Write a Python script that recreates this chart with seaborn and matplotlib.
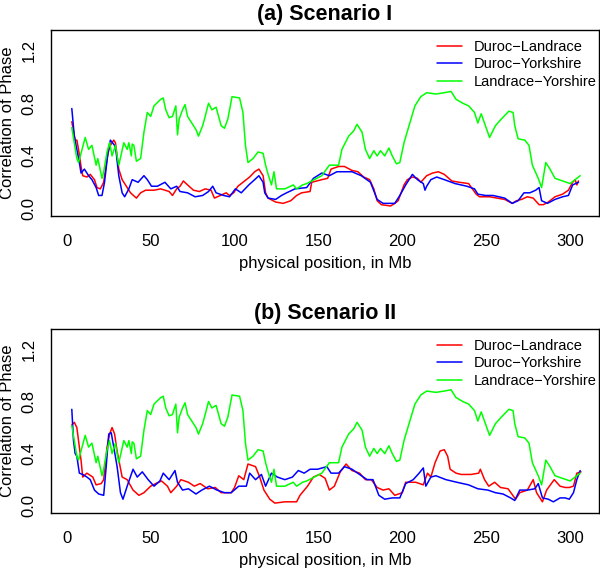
import matplotlib
matplotlib.use("Agg")
import matplotlib.pyplot as plt
import numpy as np
import pandas as pd
import seaborn as sns

# values (position in Mb, correlation of phase)
pairs = ["Duroc\u2212Landrace", "Duroc\u2212Yorkshire", "Landrace\u2212Yorshire"]
colors = ["#FF0000", "#0000FF", "#00FF00"]

# Landrace-Yorshire looks the same in both scenarios
ly_pos = [3, 6, 7, 11, 13, 15, 17.5, 18.5, 21, 22, 24, 25.5, 27, 29, 30, 31, 34, 36, 37, 38.5,
          39, 40, 41.5, 44, 46, 48, 50, 52, 56, 57.5, 59, 61, 63, 65, 66, 67, 69, 70.5, 72, 75.5,
          77, 78.5, 81, 82.5, 84.5, 86.5, 89, 92, 94, 96, 98.5, 103, 105, 106.5, 108, 111, 114, 117, 118.5, 120,
          122, 123.5, 125, 130, 135, 137, 140.5, 143, 146, 152, 156.5, 162, 164, 168, 171, 173, 176, 178, 180.5, 183,
          185, 187, 189.5, 192, 194, 196.5, 198.5, 201, 204, 207.5, 211, 214.5, 220, 225, 229, 232, 236, 239.5,
          243, 245, 247, 249.5, 252, 255.5, 259, 263.5, 266, 267, 269, 273, 275.5, 277.5, 281, 283, 285.5, 288,
          291, 295.5, 300, 302, 306]
ly_cor = [.615, .38, .35, .54, .45, .48, .33, .38, .23, .28, .43, .50, .40, .48, .40, .33, .50, .45, .50, .40,
          .49, .48, .36, .38, .58, .73, .70, .78, .83, .84, .75, .69, .70, .78, .56, .68, .75, .79, .70, .63,
          .60, .55, .63, .70, .80, .75, .77, .63, .61, .68, .85, .84, .73, .48, .35, .38, .43, .42, .33, .26,
          .18, .28, .15, .15, .18, .15, .18, .19, .21, .25, .33, .33, .45, .55, .59, .64, .58, .45, .38, .44,
          .40, .44, .40, .46, .40, .34, .35, .50, .63, .78, .85, .88, .87, .88, .89, .83, .80, .78,
          .73, .65, .72, .63, .54, .63, .68, .74, .73, .63, .53, .52, .48, .33, .23, .16, .35, .30,
          .23, .21, .19, .21, .25]

# Scenario I
dl1_pos = [3, 5, 6, 7, 8.5, 9.5, 12, 14, 16.5, 18, 20, 22, 24, 25.5, 28, 29, 30, 31, 33, 35,
           38, 41.5, 44, 47, 52, 56, 61, 63, 65.5, 67.5, 69.5, 72, 75.5, 79, 82.5, 86, 88, 91.5, 95, 97,
           99.5, 102, 105, 109, 112, 114.5, 117, 118.5, 120, 124.5, 129, 133.5, 137, 140, 145, 146, 152, 155.5, 157.5, 162,
           165.5, 170, 173.5, 177, 180.5, 183, 185, 187.5, 193, 195.5, 197.5, 201, 203, 206, 209, 211, 214.5, 218, 221.5, 225,
           229.5, 234, 239.5, 244, 246, 252, 256.5, 261, 265.5, 268, 271, 274.5, 278, 281.5, 284, 287, 291, 295.5, 299, 301.5,
           303, 304, 305]
dl1_cor = [.66, .52, .52, .45, .32, .25, .24, .26, .22, .16, .15, .20, .38, .47, .52, .50, .40, .30, .22, .18,
           .12, .08, .12, .14, .14, .15, .13, .10, .15, .17, .21, .18, .14, .13, .15, .14, .08, .10, .12, .10,
           .12, .17, .20, .24, .28, .30, .25, .12, .08, .05, .04, .06, .10, .12, .13, .20, .22, .23, .30, .32,
           .32, .29, .28, .24, .22, .15, .06, .03, .02, .04, .06, .18, .22, .24, .23, .20, .25, .27, .28, .26,
           .21, .20, .19, .11, .09, .09, .08, .07, .04, .06, .07, .09, .08, .03, .03, .05, .09, .11, .14, .20,
           .22, .18, .21]
dy1_pos = [3, 4.5, 6, 7.5, 8.5, 10.5, 13, 15, 17.5, 19, 21, 22.5, 24.5, 26, 28.5, 29.5, 31, 33, 34.5, 37,
           39, 42.5, 46, 48, 50.5, 54, 58.5, 62, 65.5, 67.5, 72, 76.5, 81, 84.5, 87, 89, 93.5, 97, 100.5, 104,
           108.5, 112, 114.5, 117, 118, 120, 124.5, 128, 131, 136, 143, 147, 152, 156.5, 161, 165.5, 170, 175.5, 181, 185,
           188.5, 195.5, 198.5, 202, 206, 209, 212.5, 213.5, 214.5, 217, 220.5, 225, 231.5, 238.5, 243, 245, 249.5, 254, 261, 265.5,
           269, 272.5, 276, 279.5, 281.5, 283, 286.5, 291, 295.5, 299, 301.5, 305]
dy1_cor = [.76, .55, .45, .35, .27, .30, .25, .22, .16, .10, .10, .20, .42, .52, .48, .42, .25, .12, .09, .15,
           .22, .20, .25, .22, .17, .17, .20, .15, .17, .13, .12, .09, .10, .13, .17, .12, .10, .09, .15, .12,
           .18, .22, .25, .20, .12, .08, .07, .10, .12, .15, .16, .23, .27, .25, .28, .28, .28, .25, .20, .07,
           .04, .04, .10, .18, .26, .22, .19, .14, .17, .22, .24, .22, .19, .17, .15, .11, .10, .10, .08, .04,
           .06, .12, .12, .14, .16, .06, .04, .07, .09, .10, .18, .20]

# Scenario II
dl2_pos = [3, 4.5, 6, 7.5, 8.5, 9.5, 12, 15.5, 17.5, 20.5, 22, 24, 25.5, 27, 28.5, 30, 31.5, 33, 36, 39.5,
           43, 46, 50, 53, 56.5, 60, 62, 65.5, 68, 72.5, 76, 79.5, 84, 88.5, 92, 98, 100, 102.5, 105.5, 108,
           112.5, 115, 117.5, 121, 124, 130, 137, 139, 143.5, 147, 150.5, 154, 156.5, 159.5, 163, 166.5, 170, 174.5, 178, 181.5,
           185, 188.5, 192, 195.5, 200, 202, 208, 212.5, 215, 217, 219.5, 222.5, 225, 227, 228.5, 232, 235, 241, 245.5, 246.5,
           249, 251.5, 255, 258.5, 263, 267.5, 270, 274.5, 278, 280, 283.5, 286, 290.5, 294, 297, 299.5, 302, 304, 306.5]
dl2_cor = [.62, .64, .60, .45, .35, .22, .25, .22, .16, .17, .20, .45, .55, .60, .55, .42, .32, .22, .20, .12,
           .08, .10, .15, .17, .19, .15, .10, .15, .20, .18, .15, .17, .13, .14, .10, .10, .14, .23, .20, .32,
           .30, .22, .12, .05, .02, .03, .03, .08, .15, .22, .24, .21, .12, .15, .26, .32, .27, .25, .20, .20,
           .14, .12, .13, .08, .10, .18, .18, .16, .25, .22, .33, .42, .43, .38, .28, .25, .24, .24, .25, .28,
           .20, .15, .18, .14, .13, .05, .10, .12, .20, .10, .03, .12, .20, .15, .14, .14, .15, .25, .26]
dy2_pos = [3, 4, 5, 6, 7.5, 9.5, 12, 14, 16.5, 19, 22, 23.5, 25, 26.5, 28, 30, 32, 33.5, 36, 39.5,
           42, 45, 48.5, 52, 55.5, 57.5, 61, 64.5, 66, 69, 72.5, 77, 80.5, 85, 89.5, 94, 98, 102.5, 107, 109,
           112.5, 116, 118.5, 122, 125.5, 130, 134.5, 138, 141.5, 145, 149.5, 155, 157.5, 162, 165.5, 170, 174.5, 179, 182.5, 186,
           189.5, 194, 198.5, 202, 206.5, 210, 212.5, 214, 217, 220, 226, 232.5, 239.5, 245, 251, 255.5, 260, 264.5, 267, 270,
           274.5, 279, 281, 283.5, 287, 290, 294, 297, 299.5, 302, 304, 306]
dy2_cor = [.74, .50, .40, .38, .25, .24, .22, .20, .12, .09, .08, .30, .55, .56, .45, .30, .10, .05, .15, .28,
           .22, .26, .20, .15, .19, .25, .20, .27, .18, .12, .13, .09, .12, .15, .12, .10, .10, .15, .15, .25,
           .20, .24, .15, .25, .22, .20, .22, .27, .25, .28, .28, .30, .25, .25, .30, .28, .24, .20, .20, .08,
           .05, .06, .06, .17, .20, .25, .29, .15, .22, .23, .20, .18, .16, .13, .12, .10, .09, .06, .04, .12,
           .12, .13, .17, .06, .05, .03, .06, .06, .05, .10, .20, .27]

xticks = [0, 50, 100, 150, 200, 250, 300]
yticks = [0.0, 0.2, 0.4, 0.6, 0.8, 1.0, 1.2]
ylabels = ["0.0", "", "0.4", "", "0.8", "", "1.2"]


def panel_frame(series):
    parts = []
    for name, pos, cor in series:
        parts.append(pd.DataFrame({"pos": pos, "cor": cor, "pair": name}))
    return pd.concat(parts, ignore_index=True)


sns.set_theme(style="white")
plt.rcParams["font.family"] = ["Liberation Sans", "DejaVu Sans"]
plt.rcParams["axes.edgecolor"] = "black"
plt.rcParams["axes.linewidth"] = 1.0
plt.rcParams["xtick.color"] = "black"
plt.rcParams["ytick.color"] = "black"
plt.rcParams["text.color"] = "black"
plt.rcParams["axes.labelcolor"] = "black"

fig = plt.figure(figsize=(6, 5.68), dpi=100)
ax_a = fig.add_axes([0.085, 0.6197, 0.9133, 0.3275])
ax_b = fig.add_axes([0.085, 0.0968, 0.9133, 0.3239])

panels = [
    (ax_a, "(a) Scenario I", [(pairs[0], dl1_pos, dl1_cor), (pairs[1], dy1_pos, dy1_cor), (pairs[2], ly_pos, ly_cor)]),
    (ax_b, "(b) Scenario II", [(pairs[0], dl2_pos, dl2_cor), (pairs[1], dy2_pos, dy2_cor), (pairs[2], ly_pos, ly_cor)]),
]

for ax, title, series in panels:
    df = panel_frame(series)
    sns.lineplot(data=df, x="pos", y="cor", hue="pair", hue_order=pairs,
                 palette=dict(zip(pairs, colors)), estimator=None, linewidth=1.1,
                 legend=False, ax=ax)
    ax.set_xlim(-9.4, 317.2)
    ax.set_ylim(-0.056, 1.356)
    ax.set_xticks(xticks)
    ax.set_xticklabels([str(t) for t in xticks], fontsize=12)
    ax.set_yticks(yticks)
    ax.set_yticklabels(ylabels, fontsize=12, rotation=90, va="center")
    ax.tick_params(axis="both", direction="out", length=7.2, width=1.0)
    ax.tick_params(axis="x", pad=5.5)
    ax.tick_params(axis="y", pad=3)
    ax.set_xlabel("physical position, in Mb", fontsize=12)
    ax.set_ylabel("Correlation of Phase", fontsize=12)
    ax.xaxis.set_label_coords(0.5, -0.215)
    ax.yaxis.set_label_coords(-0.066, 0.5)
    ax.set_title(title, fontsize=15.5, fontweight="bold", pad=7)
    for s in ax.spines.values():
        s.set_visible(True)
        s.set_color("black")
    ax.legend(ax.get_lines()[:3], pairs, loc="upper left", bbox_to_anchor=(0.704, 0.948),
              frameon=False, fontsize=10.5, handlelength=1.75, handletextpad=0.8,
              labelspacing=0.26, borderpad=0, borderaxespad=0)

fig.savefig("out.png", dpi=100)
